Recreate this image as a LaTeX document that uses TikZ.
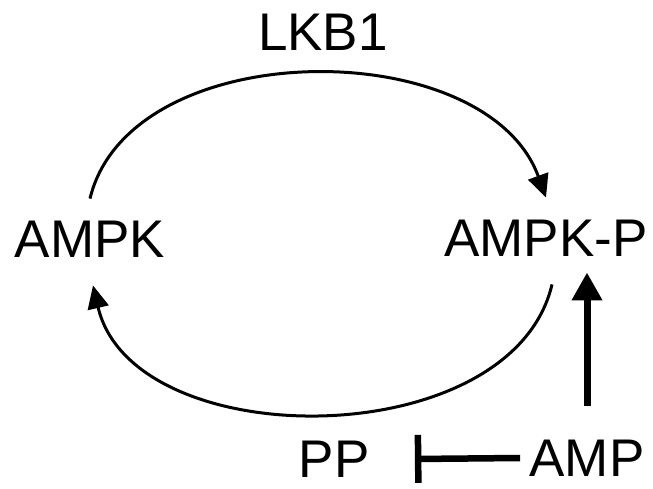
\documentclass[tikz,border=0pt]{standalone}
\usepackage{fontspec}
\setmainfont{Liberation Sans}
\usetikzlibrary{arrows.meta,positioning}

\begin{document}
\begin{tikzpicture}[x=1pt, y=1pt,
                    prot/.style={font=\fontsize{53}{60}\selectfont, inner ysep=22pt},
                    cycle/.style={line width=3pt, -{Triangle[length=23pt,width=21pt]}},
                    activ/.style={line width=7pt, -{Triangle[length=28pt,width=29pt]}},
                    inhib/.style={line width=6.5pt, -{Bar[width=48pt]}}]
                        \useasboundingbox (0,0) rectangle (653,488);
                        \node[prot] (lkb) at (323, 456) {LKB1};
                        \node[prot] (ampk) at (90, 249) {AMPK};
                        \node[prot] (ampkp) at (546, 250) {AMPK-P};
                        \node[prot] (pp) at (334, 29) {PP};
                        \node[prot] (amp) at (587, 30) {AMP};
                        \draw [cycle] (ampk.north) .. controls +(40,165) and +(-60,165) .. (ampkp.north);
                        \draw [cycle] ([xshift=6pt,yshift=-6pt]ampkp.south) .. controls +(-40,-171) and +(40,-171) .. ([xshift=3pt,yshift=-6pt]ampk.south);
                        \draw [activ] ([yshift=12pt]amp.north) -- ([yshift=6pt]amp.north |- ampkp.south);
                        \draw [inhib] ([xshift=-6pt]amp.west) -- ([xshift=42pt]pp.east);
                        \end{tikzpicture}
\end{document}
